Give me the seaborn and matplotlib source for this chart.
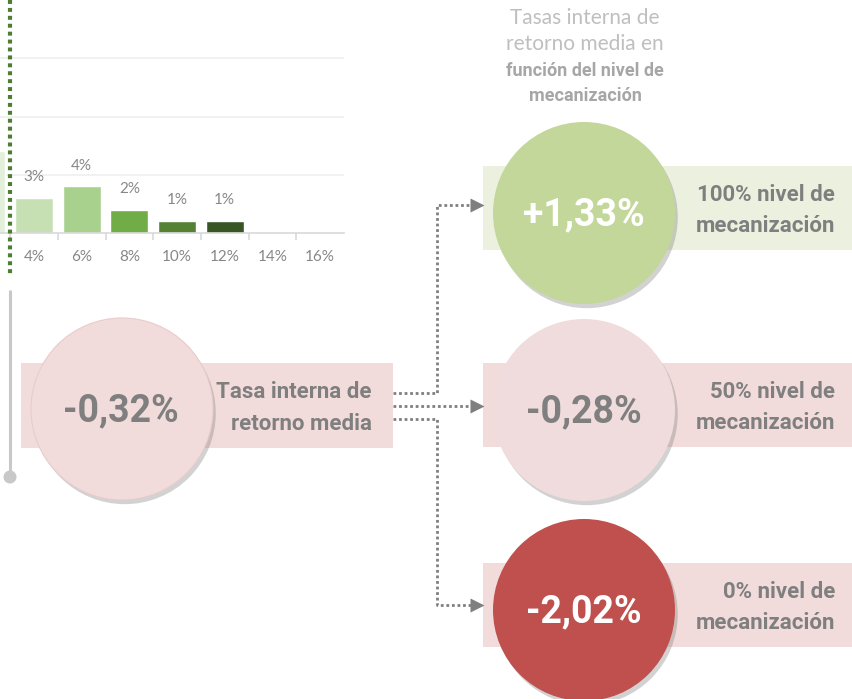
import matplotlib
matplotlib.use("Agg")
import matplotlib.pyplot as plt
import matplotlib.patheffects as pe
from matplotlib.patches import Circle, Rectangle
from matplotlib import font_manager
import seaborn as sns
import pandas as pd

# Datos del histograma (TIR); la primera categoria queda fuera del recorte
tir_categorias = ['2%', '4%', '6%', '8%', '10%', '12%', '14%', '16%']
tir_frecuencia = [7.0, 3.0, 4.0, 2.0, 1.0, 1.0, 0.0, 0.0]
tir_etiquetas = ['', '3%', '4%', '2%', '1%', '1%', '', '']
colores_barras = ['#e2efda', '#c6e0b4', '#a9d18e', '#70ad47', '#548235', '#375623', '#375623', '#375623']

# Datos de la infografia
tir_media = '-0,32%'
tir_media_texto = ['Tasa interna de', 'retorno media']
tir_niveles = ['+1,33%', '-0,28%', '-2,02%']
niveles_texto = [['100% nivel de', 'mecanización'],
                 ['50% nivel de', 'mecanización'],
                 ['0% nivel de', 'mecanización']]
titulo_normal = ['Tasas interna de', 'retorno media en']
titulo_negrita = ['función del nivel de', 'mecanización']

sns.set_theme(style="white")

nombres = {f.name for f in font_manager.fontManager.ttflist}
def elegir(cands):
    for c in cands:
        if c in nombres:
            return c
    return 'DejaVu Sans'

fuente_cond = elegir(['Liberation Sans Narrow', 'DejaVu Sans Condensed', 'Roboto', 'DejaVu Sans'])
fuente_normal = elegir(['Lato', 'Open Sans', 'DejaVu Sans'])
plt.rcParams['font.family'] = [fuente_normal, 'DejaVu Sans']

W, H = 852, 699
fig = plt.figure(figsize=(W / 100, H / 100), dpi=100)
fig.patch.set_facecolor('white')

# --- Histograma (recortado a la izquierda) ---
x0, x1, ybase = -37.6, 344.0, 233.0
ax_bar = fig.add_axes([x0 / W, (H - ybase) / H, (x1 - x0) / W, ybase / H])
df = pd.DataFrame({'tir': tir_categorias, 'pct': tir_frecuencia})
sns.barplot(data=df, x='tir', y='pct', hue='tir', order=tir_categorias,
            palette=dict(zip(tir_categorias, colores_barras)), legend=False,
            width=0.8, saturation=1, ax=ax_bar)
for cont, lab in zip(ax_bar.containers, tir_etiquetas):
    ax_bar.bar_label(cont, labels=[lab], padding=10, color='#878787', fontsize=11)
ax_bar.set_ylim(0, 20)
ax_bar.set_xlim(-0.5, len(tir_categorias) - 0.5)
ax_bar.set_yticks([5, 10, 15])
ax_bar.yaxis.grid(True, color='#efefef', lw=1.2)
ax_bar.set_yticklabels([])
ax_bar.tick_params(axis='y', length=0)
ax_bar.set_xlabel('')
ax_bar.set_ylabel('')
ax_bar.set_xticks(range(len(tir_categorias)))
ax_bar.set_xticklabels([''] + tir_categorias[1:], color='#878787', fontsize=11)
ax_bar.tick_params(axis='x', which='major', length=0, pad=12)
ax_bar.set_xticks([i + 0.5 for i in range(len(tir_categorias) - 1)], minor=True)
ax_bar.tick_params(axis='x', which='minor', length=5, color='#d9d9d9', width=1.2, direction='out', bottom=True)
for s in ['top', 'right', 'left']:
    ax_bar.spines[s].set_visible(False)
ax_bar.spines['bottom'].set_color('#d9d9d9')
ax_bar.spines['bottom'].set_linewidth(1.2)
ax_bar.set_facecolor('none')

# --- Infografia ---
ax = fig.add_axes([0, 0, 1, 1])
ax.set_xlim(0, W)
ax.set_ylim(H, 0)
ax.axis('off')
ax.set_facecolor('none')

gris = '#7f7f7f'
sombra = [pe.SimplePatchShadow(offset=(2, -3), shadow_rgbFace='#7f7f7f', alpha=0.35), pe.Normal()]

# linea vertical verde punteada y linea gris
ax.plot([10, 10], [0, 276], color='#4f7d32', lw=3.0, ls=(0, (0.95, 0.95)), dash_capstyle='butt')
ax.plot([10, 10], [290, 476], color='#c8c8c8', lw=2.2, solid_capstyle='butt')
ax.add_patch(Circle((10, 477), 6.5, color='#c8c8c8', lw=0))

# bloque de la TIR media
ax.add_patch(Rectangle((21, 363), 372, 85, color='#f2dcdb', lw=0))
c = Circle((122, 409), 91, facecolor='#f2dcdb', edgecolor='#e8cccc', lw=0.8)
c.set_path_effects(sombra)
ax.add_patch(c)
ax.text(121, 411, tir_media, ha='center', va='center', fontsize=27, fontweight='bold', color=gris, family=fuente_cond)
ax.text(372, 392, tir_media_texto[0], ha='right', va='center', fontsize=16, fontweight='bold', color=gris, family=fuente_cond)
ax.text(372, 424, tir_media_texto[1], ha='right', va='center', fontsize=16, fontweight='bold', color=gris, family=fuente_cond)

# titulo
for i, t in enumerate(titulo_normal):
    ax.text(585, 18 + 26 * i, t, ha='center', va='center', fontsize=15, color='#bfbfbf')
for i, t in enumerate(titulo_negrita):
    ax.text(585, 71 + 25 * i, t, ha='center', va='center', fontsize=13, fontweight='bold', color='#a6a6a6', family=fuente_cond)

# conectores punteados
estilo = dict(color=gris, lw=2.0, ls=(0, (1, 1)), dash_capstyle='butt')
ax.plot([393, 437, 437, 476], [393, 393, 205, 205], **estilo)
ax.plot([393, 476], [406, 406], **estilo)
ax.plot([393, 437, 437, 476], [419, 419, 605, 605], **estilo)
for yy in [205, 406, 605]:
    ax.plot([477], [yy], marker='>', color=gris, markersize=10, mec='none')

# niveles de mecanizacion
centros_y = [213, 410, 610]
circ_col = ['#c4d79b', '#f0dcdc', '#c0504d']
rect_col = ['#ebf1de', '#f2dcdb', '#f2dcdb']
txt_col = ['white', gris, 'white']
for cy, val, lab, cc, rc, tc in zip(centros_y, tir_niveles, niveles_texto, circ_col, rect_col, txt_col):
    ax.add_patch(Rectangle((483, cy - 47), 369, 84, color=rc, lw=0))
    c = Circle((584, cy), 91, facecolor=cc, edgecolor='none')
    c.set_path_effects(sombra)
    ax.add_patch(c)
    ax.text(584, cy + 2, val, ha='center', va='center', fontsize=27, fontweight='bold', color=tc, family=fuente_cond)
    ax.text(835, cy - 18, lab[0], ha='right', va='center', fontsize=16, fontweight='bold', color=gris, family=fuente_cond)
    ax.text(835, cy + 13, lab[1], ha='right', va='center', fontsize=16, fontweight='bold', color=gris, family=fuente_cond)

plt.savefig('out.png', dpi=100, facecolor='white')
